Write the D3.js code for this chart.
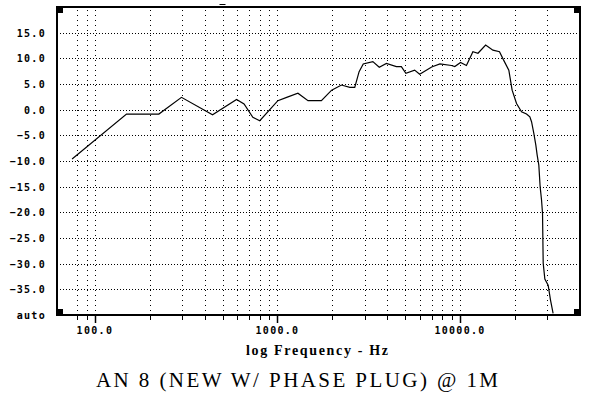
<!DOCTYPE html>
<html>
<head>
<meta charset="utf-8">
<script src="https://cdnjs.cloudflare.com/ajax/libs/d3/7.8.5/d3.min.js"></script>
<style>
body { margin: 0; background: #fff; }
svg { display: block; }
</style>
</head>
<body>
<svg id="chart" width="591" height="395"></svg>
<script>
// response curve
var freq = [75, 149, 224, 298, 441, 597, 656, 733, 800, 1005, 1123, 1294, 1470, 1740, 1980, 2240, 2490, 2650,
	2800, 2950, 3330, 3610, 3950, 4480, 4770, 5050, 5640, 6010, 6990, 7760, 8980, 9360, 10060, 10840,
	11760, 12540, 13810, 15140, 16450, 17300, 18500, 19290, 20390, 21720, 23130, 24120, 24640, 25360,
	26010, 26440, 27010, 27460, 27950, 28300, 28540, 29140, 30380, 31300, 32340];
var level = [-9.6, -0.85, -0.85, 2.4, -1.0, 2.0, 1.1, -1.5, -2.15, 1.75, 2.4, 3.2, 1.75, 1.75, 3.8, 4.8, 4.35, 4.35,
	7.4, 8.9, 9.35, 8.25, 9.0, 8.4, 8.4, 7.1, 7.7, 6.9, 8.3, 8.9, 8.6, 8.4, 9.2, 8.6,
	11.3, 11.0, 12.6, 11.6, 11.3, 9.7, 7.7, 3.8, 1.2, -0.4, -0.85, -1.4, -2.35, -4.6,
	-6.9, -8.8, -10.8, -15.0, -17.6, -20.2, -29.9, -33.0, -34.2, -37.1, -39.7];

var yTicks = [15, 10, 5, 0, -5, -10, -15, -20, -25, -30, -35, -40];
var yGrid = [15, 10, 5, 0, -5, -10, -15, -20, -25, -30, -35];
var xMajor = [100, 1000, 10000];
var xMinor = [80, 90, 200, 300, 400, 500, 600, 700, 800, 900, 2000, 3000, 4000, 5000, 6000, 7000, 8000, 9000, 20000, 30000];
var xLabel = "log Frequency - Hz";
var title = "AN 8 (NEW W/ PHASE PLUG) @ 1M";

var svg = d3.select("#chart");
var pLeft = 57, pRight = 580, pTop = 7, pBottom = 315;

var x = d3.scaleLog().domain([62, 45400]).range([pLeft, pRight]);
var y = d3.scaleLinear().domain([-40, 20]).range([pBottom, pTop]);

// grid
var grid = svg.append("g");
yGrid.forEach(function(v){
	grid.append("line")
		.attr("x1", pLeft).attr("x2", pRight - 2)
		.attr("y1", Math.round(y(v)) + 0.5).attr("y2", Math.round(y(v)) + 0.5)
		.attr("stroke", "black").attr("stroke-width", 1)
		.attr("stroke-dasharray", "1,2");
});
xMajor.concat(xMinor).forEach(function(v){
	grid.append("line")
		.attr("x1", Math.round(x(v)) + 0.5).attr("x2", Math.round(x(v)) + 0.5)
		.attr("y1", pTop + 3).attr("y2", pBottom)
		.attr("stroke", "black").attr("stroke-width", 1)
		.attr("stroke-dasharray", "1,4");
});

// ticks below axis
xMinor.forEach(function(v){
	svg.append("line")
		.attr("x1", Math.round(x(v)) + 0.5).attr("x2", Math.round(x(v)) + 0.5)
		.attr("y1", pBottom).attr("y2", pBottom + 5)
		.attr("stroke", "black").attr("stroke-width", 1);
});
xMajor.forEach(function(v){
	svg.append("line")
		.attr("x1", Math.round(x(v)) + 0.5).attr("x2", Math.round(x(v)) + 0.5)
		.attr("y1", pBottom).attr("y2", pBottom + 8)
		.attr("stroke", "black").attr("stroke-width", 1.5);
	svg.append("text")
		.attr("x", x(v)).attr("y", pBottom + 19)
		.attr("text-anchor", "middle")
		.style("font-family", "DejaVu Sans Mono").style("font-weight", "bold")
		.style("font-size", "10px").style("letter-spacing", "1.3px")
		.text(d3.format(".1f")(v));
});

// y labels
yTicks.forEach(function(v){
	svg.append("text")
		.attr("x", 46).attr("y", y(v) + 4)
		.attr("text-anchor", "end")
		.style("font-family", "DejaVu Sans Mono").style("font-weight", "bold")
		.style("font-size", "10px").style("letter-spacing", "1.3px")
		.text(v == -40 ? "auto" : d3.format(".1f")(v));
});

// frame
svg.append("path")
	.attr("d", "M" + pLeft + "," + pTop + "H" + pRight + "V" + pBottom + "H" + pLeft + "Z")
	.attr("fill", "none").attr("stroke", "black").attr("stroke-width", 2);
[[pLeft, pTop], [pRight - 6, pTop], [pLeft, pBottom - 6], [pRight - 6, pBottom - 6]].forEach(function(c){
	svg.append("rect").attr("x", c[0]).attr("y", c[1]).attr("width", 6).attr("height", 6).attr("fill", "black");
});

// cursor mark above the frame
svg.append("line")
	.attr("x1", x(500) - 3).attr("x2", x(500) + 3)
	.attr("y1", 4.5).attr("y2", 4.5)
	.attr("stroke", "black").attr("stroke-width", 1);

// curve
var pts = freq.map(function(f, i){ return [f, level[i]]; });
var line = d3.line()
	.x(function(d){ return x(d[0]); })
	.y(function(d){ return y(d[1]); })
	.curve(d3.curveLinear);
svg.append("path")
	.attr("d", line(pts))
	.attr("fill", "none").attr("stroke", "black").attr("stroke-width", 1.2);

// labels
svg.append("text")
	.attr("x", 246).attr("y", 355)
	.attr("textLength", 142).attr("lengthAdjust", "spacing")
	.style("font-family", "Liberation Serif").style("font-weight", "bold")
	.style("font-size", "14px")
	.text(xLabel);
svg.append("text")
	.attr("x", 96).attr("y", 387)
	.attr("textLength", 402).attr("lengthAdjust", "spacing")
	.style("font-family", "Liberation Serif")
	.style("font-size", "21px")
	.text(title);
</script>
</body>
</html>
